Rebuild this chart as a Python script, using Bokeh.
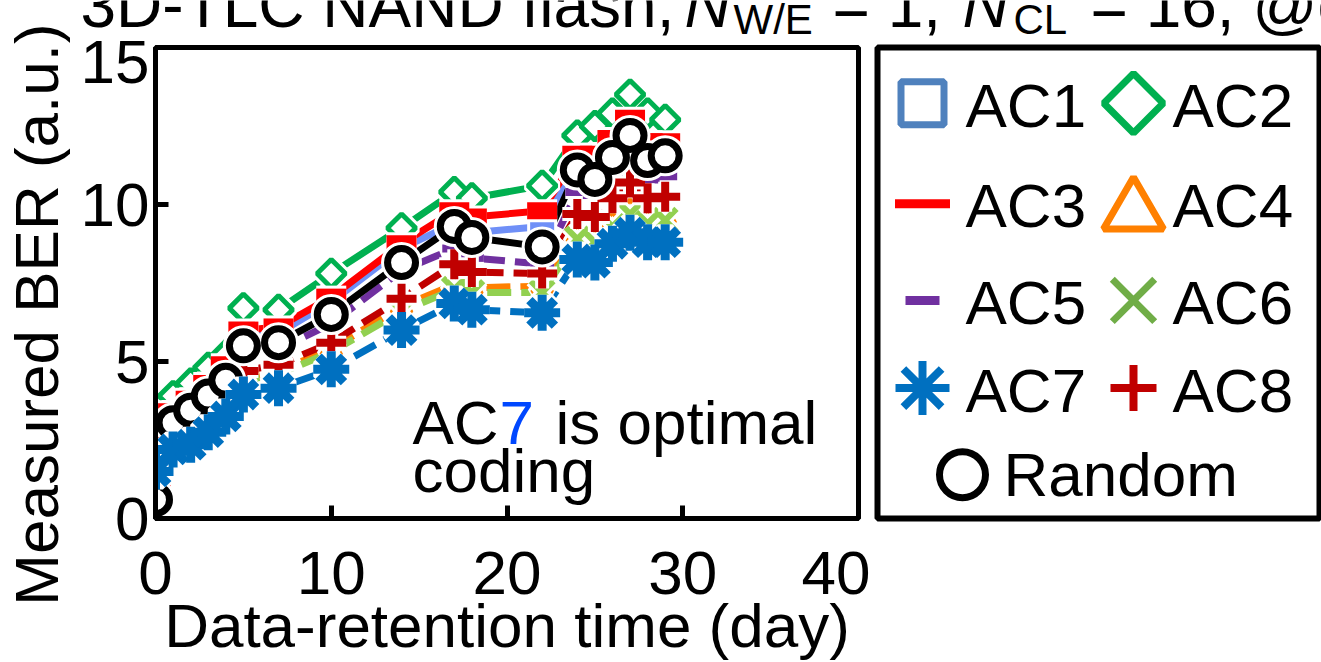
import math
from bokeh.plotting import figure
from bokeh.models import Range1d, Label, FixedTicker
from bokeh.layouts import row, column
from bokeh.embed import file_html
from bokeh.resources import INLINE
from bokeh.core.properties import value

# ---------------- data ----------------
days = [0, 1, 2, 3, 4, 5, 7, 10, 14, 17, 18, 22, 24, 25, 26, 27, 28, 29]
ac1 = [0.4, 3.3, 3.7, 4.2, 4.7, 5.8, 5.9, 6.9, 8.6, 9.4, 9.1, 9.3, 11.4, 11.3, 11.8, 12.4, 11.7, 11.7]
ac2 = [0.4, 3.9, 4.3, 4.8, 5.2, 6.7, 6.65, 7.8, 9.25, 10.4, 10.2, 10.6, 12.2, 12.5, 12.9, 13.5, 12.9, 12.7]
ac3 = [0.8, 3.4, 3.8, 4.3, 4.9, 6.0, 6.1, 7.05, 8.75, 9.8, 9.6, 9.8, 11.6, 11.6, 12.1, 12.75, 12.0, 12.0]
ac4 = [1.1, 2.6, 2.9, 3.3, 3.8, 4.5, 4.7, 5.4, 6.75, 7.45, 7.35, 7.4, 9.0, 8.9, 9.4, 9.8, 9.5, 9.6]
ac5 = [0.8, 2.9, 3.3, 3.7, 4.2, 5.3, 5.4, 6.2, 7.9, 8.6, 8.3, 8.1, 10.4, 10.3, 10.8, 11.3, 10.8, 10.9]
ac6 = [1.0, 2.5, 2.8, 3.2, 3.7, 4.4, 4.6, 5.3, 6.6, 7.3, 7.2, 7.2, 8.9, 8.8, 9.3, 9.7, 9.4, 9.5]
ac7 = [1.5, 2.2, 2.35, 2.75, 3.25, 3.95, 4.15, 4.75, 6.0, 6.85, 6.65, 6.55, 8.25, 8.15, 8.75, 9.1, 8.8, 8.8]
ac8 = [1.3, 2.7, 3.1, 3.5, 4.0, 4.7, 4.9, 5.6, 7.0, 8.1, 7.85, 7.8, 9.7, 9.6, 10.2, 10.7, 10.2, 10.25]
rnd = [0.6, 3.05, 3.45, 3.9, 4.4, 5.5, 5.6, 6.5, 8.15, 9.3, 8.95, 8.65, 11.1, 10.8, 11.5, 12.2, 11.4, 11.55]

names = ["AC1", "AC2", "AC3", "AC4", "AC5", "AC6", "AC7", "AC8", "Random"]
values = [ac1, ac2, ac3, ac4, ac5, ac6, ac7, ac8, rnd]

x_ticks = [0, 10, 20, 30, 40]
y_ticks = [0, 5, 10, 15]

x_title = "Data-retention time (day)"
y_title = "Measured BER (a.u.)"

FONT = "Liberation Sans"
BASE_FIX = 0.355  # svg text baseline correction (fraction of font size)

# ---------------- styles ----------------
plot_color = {"AC1": "#6f8ff7", "AC2": "#00b050", "AC3": "#ff0000", "AC4": "#ff8000",
              "AC5": "#7030a0", "AC6": "#92d050", "AC7": "#0070c0", "AC8": "#c00000",
              "Random": "#000000"}
legend_color = {"AC1": "#4f81bd", "AC2": "#00b050", "AC3": "#ff0000", "AC4": "#ff8000",
                "AC5": "#7030a0", "AC6": "#70ad47", "AC7": "#0070c0", "AC8": "#c00000",
                "Random": "#000000"}
dash = {"AC1": "solid", "AC2": "solid", "AC3": "solid", "AC4": "24 10", "AC5": "24 10",
        "AC6": "24 10", "AC7": "24 10", "AC8": "24 10", "Random": "solid"}
marker = {"AC1": "square", "AC2": "square", "AC3": "dash", "AC4": "triangle", "AC5": "dash",
          "AC6": "x", "AC7": "asterisk", "AC8": "cross", "Random": "circle"}
msize = {"AC1": 22, "AC2": 20, "AC3": 30, "AC4": 20, "AC5": 24, "AC6": 32,
         "AC7": 36, "AC8": 30, "Random": 28}
mlw = {"AC1": 2, "AC2": 5, "AC3": 17, "AC4": 4, "AC5": 8, "AC6": 6,
       "AC7": 9, "AC8": 8, "Random": 7}
mangle = {"AC2": math.pi / 4}
mfill = {"AC1": "#6f8ff7", "AC2": "white", "AC4": "white", "Random": "white"}

draw_order = ["AC2", "AC1", "AC3", "AC4", "AC6", "AC5", "AC8", "Random", "AC7"]


def bare(w, h, xr, yr):
    f = figure(width=w, height=h, x_range=Range1d(*xr), y_range=Range1d(*yr),
               output_backend="svg", toolbar_location=None, x_axis_type=None, y_axis_type=None,
               min_border=0)
    f.grid.visible = False
    f.outline_line_color = None
    f.border_fill_color = "white"
    f.background_fill_color = "white"
    return f


def txt(f, x, y, text, size=62, color="black", style="normal", align="left", angle=0):
    # y given as desired baseline in page pixels (range flipped: y grows downward)
    if angle == 0:
        yy, xx = y - BASE_FIX * size, x
    else:
        yy, xx = y, x - BASE_FIX * size
    f.text([xx], [yy], text=[text], text_font=value(FONT), text_font_size=f"{size}px",
           text_color=color, text_font_style=style, text_align=align,
           text_baseline="alphabetic", angle=angle)


# ---------------- y-label strip (page x 0..70, y 0..662) ----------------
ylab = bare(70, 662, (0, 70), (662, 0))
txt(ylab, 58, 314, y_title, align="center", angle=math.pi / 2)

# ---------------- title strip (page x 70..1321, y 0..40) ----------------
tfig = bare(1251, 40, (70, 1321), (40, 0))
txt(tfig, 80, 27, "3D-TLC NAND flash,", size=64)
txt(tfig, 684, 27, "N", size=64, style="italic")
txt(tfig, 733, 34, "W/E", size=42)
txt(tfig, 832, 27, "= 1,", size=64)
txt(tfig, 962, 27, "N", size=64, style="italic")
txt(tfig, 1013, 34, "CL", size=42)
txt(tfig, 1090, 27, "= 16, @c", size=64)

# ---------------- main plot (page x 70..870, y 40..662) ----------------
p = figure(width=800, height=622, x_range=Range1d(0, 40), y_range=Range1d(0, 15),
           output_backend="svg", toolbar_location=None,
           min_border_left=85, min_border_right=12, min_border_top=7, min_border_bottom=143)
p.xgrid.visible = False
p.ygrid.visible = False
p.outline_line_color = "black"
p.outline_line_width = 5
p.background_fill_color = "white"
p.border_fill_color = "white"

p.xaxis.ticker = FixedTicker(ticks=x_ticks)
p.yaxis.ticker = FixedTicker(ticks=y_ticks)
for ax in (p.xaxis[0], p.yaxis[0]):
    ax.axis_line_width = 5
    ax.axis_line_color = "black"
    ax.major_tick_in = 13
    ax.major_tick_out = 0
    ax.major_tick_line_width = 5
    ax.major_tick_line_color = "black"
    ax.minor_tick_line_color = None
    ax.major_label_text_font = FONT
    ax.major_label_text_font_size = "62px"
    ax.major_label_text_color = "black"
p.xaxis.major_label_standoff = 33
p.yaxis.major_label_standoff = 6
p.xaxis.axis_label = x_title
p.xaxis.axis_label_text_font = FONT
p.xaxis.axis_label_text_font_size = "62px"
p.xaxis.axis_label_text_font_style = "normal"
p.xaxis.axis_label_text_color = "black"
p.xaxis.axis_label_standoff = -6

idx = {n: i for i, n in enumerate(names)}
for n in draw_order:
    p.line(days, values[idx[n]], line_color=plot_color[n], line_width=7, line_dash=dash[n])
for n in draw_order:
    ys = values[idx[n]]
    ang = mangle.get(n, 0)
    fill = mfill.get(n, None)
    p.scatter(days, ys, marker=marker[n], size=msize[n], angle=ang,
              line_color="white", line_width=mlw[n] + 6,
              fill_color="white" if fill else None)
    p.scatter(days, ys, marker=marker[n], size=msize[n], angle=ang,
              line_color=plot_color[n], line_width=mlw[n], fill_color=fill)


def px2x(px):
    return (px - 155) / 17.575


def py2y(py):
    return (519 - py) / 31.47


def lab(x_px, base_px, text, size=62, color="black"):
    p.add_layout(Label(x=px2x(x_px), y=py2y(base_px - BASE_FIX * size), text=text,
                       text_font=FONT, text_font_size=f"{size}px", text_color=color,
                       text_align="left", text_baseline="alphabetic"))


lab(412, 445, "AC")
lab(499, 445, "7", color="#0047ff")
lab(555, 445, "is optimal")
lab(412, 493, "coding")

# ---------------- legend panel (page x 870..1321, y 40..662) ----------------
lg = figure(width=451, height=622, x_range=Range1d(877, 1319), y_range=Range1d(520, 47),
            output_backend="svg", toolbar_location=None, x_axis_type=None, y_axis_type=None,
            min_border_left=7, min_border_right=2, min_border_top=7, min_border_bottom=142)
lg.grid.visible = False
lg.outline_line_color = "black"
lg.outline_line_width = 6
lg.border_fill_color = "white"

col_marker_x = [922, 1133]
col_text_x = [965, 1172]
row_marker_y = [103, 204, 301, 389]
row_text_y = [127, 228, 325, 413]
rand_marker = (962, 476)
rand_text = (1003, 498)
leg_size = {"AC1": 43, "AC2": 42, "AC3": 55, "AC4": 60, "AC5": 34, "AC6": 60,
            "AC7": 54, "AC8": 46, "Random": 46}
leg_lw = {"AC1": 7, "AC2": 7, "AC3": 9, "AC4": 7, "AC5": 9, "AC6": 7,
          "AC7": 8, "AC8": 8, "Random": 7}
leg_dy = {"AC4": 8}

for i, n in enumerate(names):
    if n == "Random":
        (mx, my), (tx, ty2) = rand_marker, rand_text
    else:
        r, c = divmod(i, 2)
        mx, my = col_marker_x[c], row_marker_y[r] + leg_dy.get(n, 0)
        tx, ty2 = col_text_x[c], row_text_y[r]
    fill = "white" if marker[n] in ("square", "triangle", "circle") else None
    lg.scatter([mx], [my], marker=marker[n], size=leg_size[n], angle=mangle.get(n, 0),
               line_color=legend_color[n], line_width=leg_lw[n], fill_color=fill)
    txt(lg, tx, ty2, n)

layout = row(ylab, column(tfig, row(p, lg)))
open("out.html", "w").write(file_html(layout, INLINE))
